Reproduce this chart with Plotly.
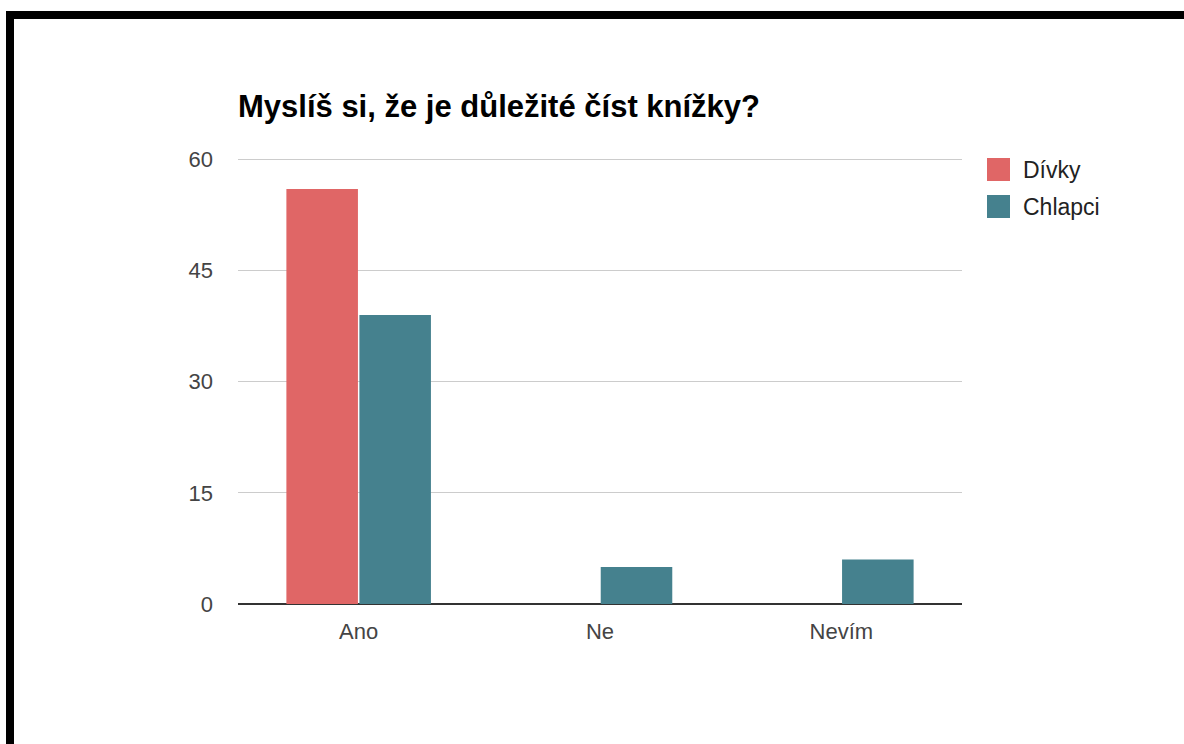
import plotly.graph_objects as go

categories = ["Ano", "Ne", "Nevím"]
series_names = ["Dívky", "Chlapci"]
divky = [56, 0, 0]
chlapci = [39, 5, 6]
y_ticks = [0, 15, 30, 45, 60]
colors = ["#e06666", "#45818e"]
title_text = "Myslíš si, že je důležité číst knížky?"

FONT = "Arial, 'Liberation Sans', sans-serif"

fig = go.Figure()
for name, vals, col in zip(series_names, [divky, chlapci], colors):
    fig.add_trace(go.Bar(
        x=categories, y=vals, name=name,
        marker=dict(color=col, line=dict(width=0)),
        showlegend=False, hoverinfo="x+y+name",
    ))

# plot area in pixels: left 238, right 962, top 157, bottom 604
shapes = []
# black frame: top and left edges
shapes.append(dict(type="rect", xref="paper", yref="paper",
                   xsizemode="pixel", ysizemode="pixel", xanchor=0, yanchor=1,
                   x0=-232, x1=960, y0=138, y1=146,
                   fillcolor="black", line=dict(width=0), layer="above"))
shapes.append(dict(type="rect", xref="paper", yref="paper",
                   xsizemode="pixel", ysizemode="pixel", xanchor=0, yanchor=1,
                   x0=-232, x1=-224, y0=-700, y1=146,
                   fillcolor="black", line=dict(width=0), layer="above"))

annotations = []
# custom legend
for i, (name, col) in enumerate(zip(series_names, colors)):
    top = -1 - 37 * i
    shapes.append(dict(type="rect", xref="paper", yref="paper",
                       xsizemode="pixel", ysizemode="pixel", xanchor=1, yanchor=1,
                       x0=25, x1=48, y0=top - 23, y1=top,
                       fillcolor=col, line=dict(width=0)))
    annotations.append(dict(xref="paper", yref="paper", x=1, y=1,
                            xshift=59, yshift=top - 11.5,
                            xanchor="left", yanchor="middle", showarrow=False,
                            text=name, font=dict(family=FONT, size=23, color="#222222")))

fig.update_layout(
    width=1184, height=744,
    margin=dict(l=238, r=222, t=157, b=140, pad=0),
    paper_bgcolor="white", plot_bgcolor="white",
    barmode="group", bargap=0.395, bargroupgap=0.02,
    title=dict(text="<b>" + title_text + "</b>", x=238 / 1184, xanchor="left",
               xref="container", yref="container", y=1 - 106 / 744, yanchor="middle",
               font=dict(family=FONT, size=31, color="#000000")),
    font=dict(family=FONT),
    xaxis=dict(showgrid=False, showline=False, zeroline=False,
               tickfont=dict(family=FONT, size=22, color="#444444"),
               ticks="", ticklabelstandoff=12, fixedrange=True),
    yaxis=dict(range=[0, 60.3], tickvals=y_ticks, showgrid=True, gridcolor="#cccccc",
               gridwidth=1, zeroline=True, zerolinecolor="#333333", zerolinewidth=2,
               showline=False, ticks="", ticklabelstandoff=24,
               tickfont=dict(family=FONT, size=22, color="#444444"), fixedrange=True),
    shapes=shapes, annotations=annotations,
    showlegend=False,
)

fig.write_html("out.html", include_plotlyjs=True,
               config={"displayModeBar": False},
               post_script="document.body.style.margin='0';document.body.style.overflow='hidden';")
